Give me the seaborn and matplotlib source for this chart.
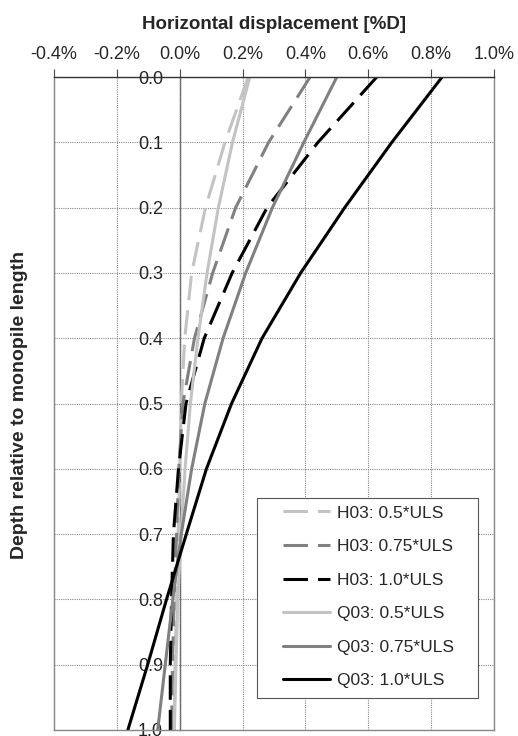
import numpy as np
import pandas as pd
import matplotlib
matplotlib.use("Agg")
import matplotlib.pyplot as plt
from matplotlib.patches import Rectangle
from matplotlib.ticker import FuncFormatter
import seaborn as sns

# depth relative to monopile length
depth = [0.0, 0.1, 0.2, 0.3, 0.4, 0.5, 0.6, 0.7, 0.8, 0.9, 1.0]

# horizontal displacement [%D]
h03_050 = [0.218, 0.144, 0.082, 0.038, 0.016, 0.005, 0.0, -0.005, -0.01, -0.015, -0.018]
h03_075 = [0.415, 0.283, 0.178, 0.105, 0.047, 0.01, -0.003, -0.01, -0.018, -0.023, -0.026]
h03_100 = [0.627, 0.44, 0.278, 0.167, 0.078, 0.02, -0.004, -0.02, -0.026, -0.03, -0.03]
q03_050 = [0.223, 0.168, 0.123, 0.087, 0.058, 0.034, 0.017, 0.004, -0.006, -0.012, -0.017]
q03_075 = [0.50, 0.395, 0.295, 0.21, 0.138, 0.08, 0.038, 0.005, -0.022, -0.046, -0.07]
q03_100 = [0.835, 0.675, 0.525, 0.385, 0.262, 0.165, 0.085, 0.021, -0.042, -0.102, -0.165]

labels = ["H03: 0.5*ULS", "H03: 0.75*ULS", "H03: 1.0*ULS",
          "Q03: 0.5*ULS", "Q03: 0.75*ULS", "Q03: 1.0*ULS"]
series = [h03_050, h03_075, h03_100, q03_050, q03_075, q03_100]

df = pd.concat([pd.DataFrame({"disp": s, "depth": depth, "case": lab})
                for s, lab in zip(series, labels)], ignore_index=True)

light, mid, dark = "#c3c3c3", "#808080", "#000000"
palette = dict(zip(labels, [light, mid, dark, light, mid, dark]))
dash = (8, 3.3)
dashes = dict(zip(labels, [dash, dash, dash, "", "", ""]))

sns.set_style("white")
plt.rcParams['font.family'] = ['Liberation Sans', 'DejaVu Sans']

fig = plt.figure(figsize=(5.18, 7.36), dpi=100)
ax = fig.add_axes([54 / 518, 1 - 730 / 736, 440 / 518, 653 / 736])

sns.lineplot(data=df, x="disp", y="depth", hue="case", style="case",
             palette=palette, dashes=dashes, sort=False, estimator=None,
             linewidth=2.2, ax=ax, legend=False)

ax.set_xlim(-0.4, 1.0)
ax.set_ylim(1.0, 0.0)
ax.set_xticks(np.arange(-0.4, 1.01, 0.2))
ax.set_yticks(np.arange(0, 1.01, 0.1))
ax.xaxis.set_major_formatter(FuncFormatter(lambda v, p: f"{v:.1f}%"))
ax.xaxis.tick_top()
ax.xaxis.set_label_position("top")
ax.tick_params(axis="x", direction="out", length=6, width=0.8, color="#444444",
               labelsize=13, pad=4, top=True, bottom=False)
ax.tick_params(axis="y", left=False, labelleft=False)
ax.grid(True, color="#888888", linestyle=(0, (1, 1)), linewidth=0.8)

for side in ["left", "right", "bottom"]:
    ax.spines[side].set_color("#888888")
    ax.spines[side].set_linewidth(1.0)
ax.spines["top"].set_color("#333333")
ax.spines["top"].set_linewidth(1.0)

# depth axis drawn through x = 0
sec = ax.secondary_yaxis(0.4 / 1.4)
sec.set_yticks(np.arange(0, 1.01, 0.1))
sec.yaxis.set_major_formatter(FuncFormatter(lambda v, p: f"{v:.1f}"))
sec.spines["left"].set_color("#555555")
sec.spines["left"].set_linewidth(1.0)
sec.tick_params(axis="y", length=0, labelsize=13, pad=12, colors="#222222")

ax.set_xlabel("Horizontal displacement [%D]", fontsize=13.5, fontweight="bold", labelpad=12)
ax.set_ylabel("")
fig.text(20 / 518, 1 - 405 / 736, "Depth relative to monopile length", rotation=90,
         fontsize=14, fontweight="bold", ha="center", va="center")

# legend box (wider side padding than top/bottom, as in the original)
ax.add_patch(Rectangle((203 / 440, 32 / 653), 221 / 440, 200 / 653, transform=ax.transAxes,
                       facecolor="white", edgecolor="#555555", linewidth=0.8, zorder=5))
handles = ax.get_lines()[:6]
leg = ax.legend(handles, labels, loc="upper left", bbox_to_anchor=(229 / 440, 0.344),
                fontsize=12.5, frameon=False, handlelength=2.7, borderpad=0,
                borderaxespad=0, labelspacing=1.06, handletextpad=0.4)
leg.set_zorder(6)

fig.savefig("out.png", dpi=100)
